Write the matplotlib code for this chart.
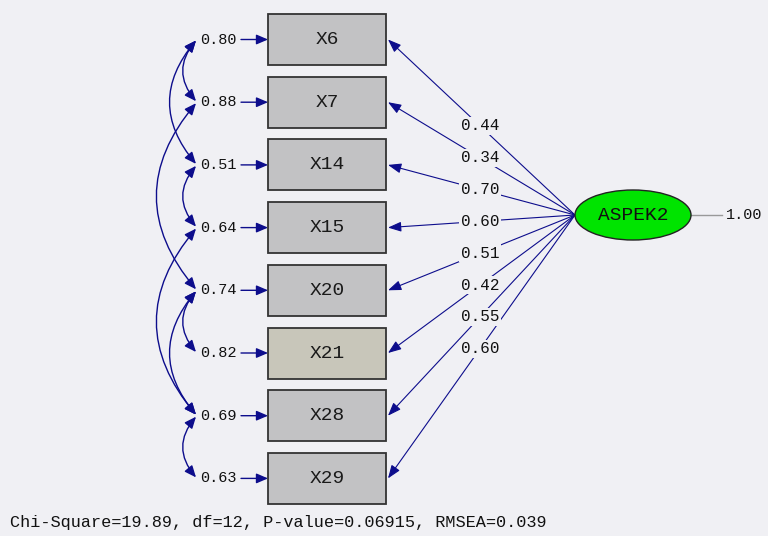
import matplotlib.pyplot as plt
from matplotlib.patches import Rectangle, Ellipse, FancyArrowPatch

# LISREL path diagram: one latent factor, eight indicators
indicators = ["X6", "X7", "X14", "X15", "X20", "X21", "X28", "X29"]
loadings = [0.44, 0.34, 0.70, 0.60, 0.51, 0.42, 0.55, 0.60]
error_vars = [0.80, 0.88, 0.51, 0.64, 0.74, 0.82, 0.69, 0.63]
# correlated errors (index pairs into indicators)
error_covs = [(0, 1), (0, 2), (1, 4), (2, 3), (3, 6), (4, 5), (4, 6), (6, 7)]
latent_name = "ASPEK2"
latent_var = 1.00
fit_text = "Chi-Square=19.89, df=12, P-value=0.06915, RMSEA=0.039"

bg = "#f0f0f4"
navy = "#0d0d8c"
mono = "Liberation Mono"

fig = plt.figure(figsize=(7.68, 5.36), dpi=100, facecolor=bg)
ax = fig.add_axes([0, 0, 1, 1])
ax.set_xlim(0, 768)
ax.set_ylim(536, 0)
ax.axis("off")
ax.set_facecolor(bg)

# layout
box_x0, box_w, box_h = 268, 118, 51
y0, dy = 39.5, 62.7
lat_x, lat_y, lat_w, lat_h = 633, 215, 116, 50
lab_x = 218

ys = [y0 + i * dy for i in range(len(indicators))]

for i, (name, y) in enumerate(zip(indicators, ys)):
    fc = "#c8c6ba" if name == "X21" else "#c2c2c4"
    ax.add_patch(Rectangle((box_x0, y - box_h / 2), box_w, box_h,
                           facecolor=fc, edgecolor="#333333", lw=1.3, zorder=3))
    ax.text(box_x0 + box_w / 2, y, name, ha="center", va="center",
            family=mono, fontsize=14, color="#1a1a1a", zorder=4)

    # error variance label + arrow to box
    ax.text(lab_x, y, "%.2f" % error_vars[i], ha="center", va="center",
            family=mono, fontsize=11, color="#111111", zorder=4)
    ax.add_patch(FancyArrowPatch((241, y), (box_x0, y), arrowstyle="-|>,head_length=0.7,head_width=0.3",
                                 mutation_scale=10, color=navy, lw=1.0,
                                 shrinkA=0, shrinkB=0, zorder=2))

    # loading arrow from latent to box
    x_end = box_x0 + box_w + 2
    x_start = lat_x - lat_w / 2
    ax.add_patch(FancyArrowPatch((x_start, lat_y), (x_end, y),
                                 arrowstyle="-|>,head_length=0.8,head_width=0.3",
                                 mutation_scale=10, color=navy, lw=0.8,
                                 shrinkA=0, shrinkB=0, zorder=2))
    t = (x_start - 480) / (x_start - x_end)
    ly = lat_y + t * (y - lat_y)
    ax.text(480, ly, "%.2f" % loadings[i], ha="center", va="center",
            family=mono, fontsize=11.5, color="#111111", zorder=4,
            bbox=dict(boxstyle="square,pad=0.1", facecolor=bg, edgecolor="none"))

# correlated errors as curved double-headed arrows on the left
for a, b in error_covs:
    ax.add_patch(FancyArrowPatch((196, ys[a] + 1), (196, ys[b] - 1),
                                 connectionstyle="arc3,rad=0.42",
                                 arrowstyle="<|-|>,head_length=0.7,head_width=0.3",
                                 mutation_scale=10, color=navy, lw=1.0,
                                 shrinkA=0, shrinkB=0, zorder=2))

# latent variable
ax.add_patch(Ellipse((lat_x, lat_y), lat_w, lat_h, facecolor="#00e400",
                     edgecolor="#222222", lw=1.0, zorder=3))
ax.text(lat_x, lat_y, latent_name, ha="center", va="center",
        family=mono, fontsize=14, color="#111111", zorder=4)
ax.plot([lat_x + lat_w / 2, 722], [lat_y, lat_y], color="#999999", lw=1.0, zorder=2)
ax.text(744, lat_y, "%.2f" % latent_var, ha="center", va="center",
        family=mono, fontsize=11, color="#111111", zorder=4)

ax.text(10, 522, fit_text, ha="left", va="center", family=mono,
        fontsize=12.2, color="#111111")

fig.savefig("out.png", dpi=100, facecolor=bg)
